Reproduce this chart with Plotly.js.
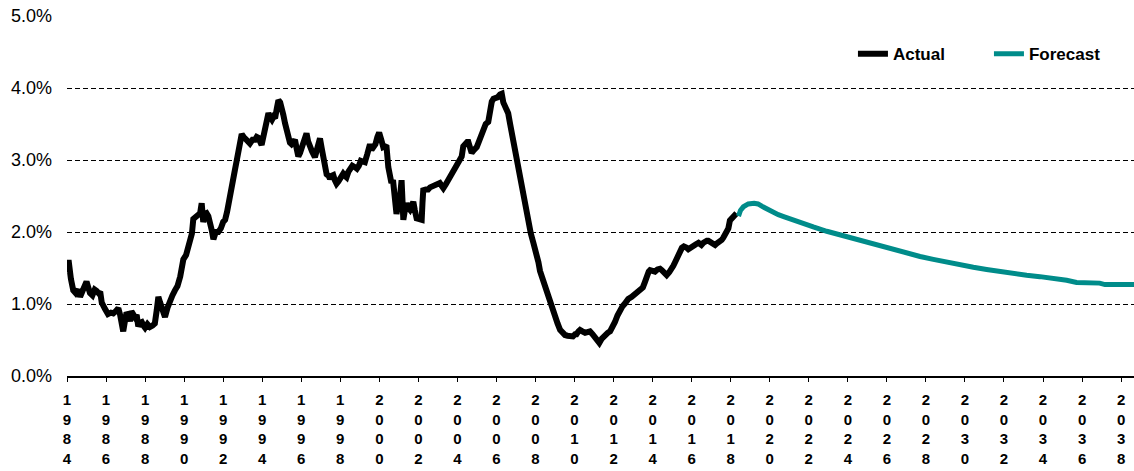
<!DOCTYPE html>
<html>
<head>
<meta charset="utf-8">
<script src="https://cdn.plot.ly/plotly-3.0.1.min.js"></script>
<style>html,body{margin:0;padding:0;background:#fff;}#chart{width:1134px;height:471px;}</style>
</head>
<body>
<div id="chart"></div>
<script>
const actualYears = [1984.00,1984.08,1984.20,1984.32,1984.45,1984.58,1984.67,1984.78,1984.90,1985.00,1985.10,1985.18,1985.30,1985.42,1985.52,1985.62,1985.70,1985.78,1985.95,1986.10,1986.25,1986.37,1986.50,1986.63,1986.72,1986.80,1986.88,1986.96,1987.05,1987.15,1987.23,1987.30,1987.40,1987.48,1987.57,1987.65,1987.74,1987.83,1987.92,1988.00,1988.12,1988.25,1988.38,1988.50,1988.60,1988.68,1988.77,1988.85,1989.02,1989.15,1989.28,1989.40,1989.53,1989.66,1989.80,1989.90,1989.96,1990.10,1990.20,1990.30,1990.40,1990.47,1990.56,1990.73,1990.82,1990.90,1990.98,1991.08,1991.15,1991.24,1991.32,1991.42,1991.50,1991.62,1991.75,1991.88,1992.00,1992.10,1992.20,1992.27,1992.36,1992.44,1992.52,1992.60,1992.70,1992.78,1992.87,1992.95,1993.05,1993.20,1993.37,1993.50,1993.63,1993.72,1993.80,1993.97,1994.07,1994.15,1994.25,1994.32,1994.40,1994.50,1994.58,1994.66,1994.75,1994.83,1994.92,1995.00,1995.08,1995.17,1995.26,1995.34,1995.42,1995.50,1995.60,1995.68,1995.77,1995.85,1995.94,1996.02,1996.12,1996.20,1996.27,1996.35,1996.44,1996.55,1996.70,1996.80,1996.90,1996.96,1997.05,1997.13,1997.22,1997.30,1997.40,1997.47,1997.55,1997.64,1997.72,1997.81,1997.90,1997.98,1998.07,1998.15,1998.24,1998.32,1998.42,1998.50,1998.62,1998.75,1998.85,1998.95,1999.05,1999.15,1999.26,1999.38,1999.46,1999.52,1999.60,1999.70,1999.80,1999.90,1999.99,2000.10,2000.20,2000.28,2000.37,2000.46,2000.55,2000.62,2000.70,2000.78,2000.88,2000.97,2001.06,2001.14,2001.19,2001.23,2001.32,2001.40,2001.48,2001.57,2001.66,2001.74,2001.82,2001.91,2002.05,2002.17,2002.21,2002.25,2002.38,2002.50,2002.60,2002.68,2002.80,2002.94,2003.02,2003.10,2003.20,2003.28,2003.40,2003.53,2003.66,2003.80,2003.92,2004.05,2004.15,2004.22,2004.30,2004.40,2004.50,2004.56,2004.65,2004.73,2004.85,2004.99,2005.08,2005.16,2005.25,2005.33,2005.45,2005.58,2005.68,2005.76,2005.85,2005.93,2006.05,2006.18,2006.27,2006.35,2006.50,2006.60,2006.70,2006.80,2006.87,2007.00,2007.13,2007.25,2007.38,2007.50,2007.64,2007.76,2007.89,2008.06,2008.15,2008.23,2008.36,2008.49,2008.62,2008.74,2008.87,2009.00,2009.13,2009.26,2009.38,2009.51,2009.64,2009.77,2009.92,2010.03,2010.10,2010.20,2010.28,2010.40,2010.54,2010.66,2010.79,2010.92,2011.05,2011.16,2011.27,2011.40,2011.56,2011.70,2011.82,2011.95,2012.07,2012.20,2012.33,2012.46,2012.59,2012.75,2012.93,2013.05,2013.18,2013.35,2013.50,2013.60,2013.69,2013.80,2013.87,2014.00,2014.12,2014.25,2014.38,2014.47,2014.55,2014.65,2014.72,2014.85,2014.97,2015.06,2015.15,2015.25,2015.32,2015.42,2015.50,2015.60,2015.66,2015.75,2015.83,2015.95,2016.09,2016.22,2016.35,2016.42,2016.50,2016.60,2016.68,2016.78,2016.85,2016.94,2017.02,2017.10,2017.20,2017.28,2017.37,2017.46,2017.54,2017.62,2017.70,2017.80,2017.88,2017.96,2018.05,2018.14,2018.22,2018.30];
const actualValues = [1.44,1.61,1.35,1.19,1.15,1.20,1.10,1.18,1.22,1.31,1.22,1.15,1.12,1.20,1.18,1.15,1.17,1.02,0.93,0.86,0.88,0.87,0.90,0.94,0.85,0.72,0.62,0.75,0.88,0.85,0.76,0.90,0.87,0.82,0.85,0.69,0.74,0.75,0.70,0.67,0.72,0.68,0.70,0.73,0.92,1.10,1.02,0.94,0.82,0.95,1.06,1.12,1.19,1.25,1.38,1.52,1.62,1.68,1.80,1.92,1.98,2.18,2.20,2.24,2.26,2.40,2.14,2.25,2.26,2.22,2.15,2.02,1.90,2.00,2.00,2.05,2.14,2.17,2.28,2.40,2.48,2.56,2.76,2.86,3.00,3.14,3.26,3.36,3.32,3.27,3.23,3.28,3.28,3.32,3.31,3.21,3.36,3.47,3.60,3.65,3.60,3.56,3.60,3.58,3.72,3.83,3.80,3.74,3.63,3.51,3.38,3.30,3.24,3.22,3.26,3.28,3.15,3.05,3.10,3.18,3.25,3.32,3.37,3.26,3.18,3.12,3.04,3.12,3.26,3.30,3.16,3.04,2.90,2.80,2.78,2.74,2.78,2.79,2.72,2.67,2.70,2.73,2.79,2.81,2.78,2.76,2.84,2.89,2.92,2.90,2.88,2.92,2.99,2.98,2.97,3.08,3.20,3.22,3.14,3.18,3.22,3.32,3.38,3.28,3.18,3.19,3.18,2.90,2.70,2.68,2.72,2.45,2.25,2.40,2.49,2.72,2.45,2.17,2.32,2.40,2.34,2.31,2.36,2.42,2.30,2.19,2.18,2.17,2.40,2.58,2.59,2.59,2.62,2.63,2.64,2.67,2.68,2.68,2.64,2.61,2.66,2.72,2.77,2.84,2.90,2.96,3.00,3.05,3.19,3.24,3.25,3.25,3.16,3.10,3.14,3.18,3.24,3.30,3.38,3.44,3.50,3.53,3.70,3.81,3.85,3.86,3.87,3.91,3.92,3.80,3.70,3.65,3.50,3.35,3.26,3.08,2.95,2.78,2.58,2.40,2.17,1.98,1.85,1.70,1.58,1.46,1.35,1.24,1.12,1.01,0.90,0.82,0.73,0.64,0.60,0.57,0.56,0.55,0.55,0.58,0.58,0.62,0.64,0.62,0.60,0.61,0.62,0.58,0.53,0.50,0.46,0.52,0.58,0.60,0.62,0.68,0.75,0.84,0.92,0.97,1.01,1.07,1.10,1.13,1.16,1.19,1.23,1.30,1.39,1.45,1.47,1.46,1.45,1.48,1.49,1.47,1.45,1.41,1.40,1.44,1.48,1.53,1.58,1.64,1.69,1.75,1.78,1.80,1.80,1.78,1.76,1.79,1.81,1.83,1.85,1.84,1.82,1.85,1.87,1.88,1.88,1.86,1.84,1.83,1.82,1.84,1.85,1.87,1.89,1.92,1.96,2.00,2.05,2.16,2.19,2.21,2.23,2.26];

const forecastYears = [2018.40,2018.50,2018.65,2018.90,2019.20,2019.40,2019.65,2019.90,2020.20,2020.44,2020.75,2021.04,2021.55,2022.23,2022.92,2023.60,2024.28,2024.97,2025.65,2026.33,2027.01,2027.70,2028.38,2029.06,2029.75,2030.43,2031.11,2031.80,2032.48,2033.16,2033.84,2034.53,2035.21,2035.72,2036.90,2037.17,2038.70];
const forecastValues = [2.22,2.30,2.35,2.39,2.40,2.39,2.35,2.31,2.27,2.24,2.21,2.18,2.13,2.07,2.01,1.96,1.90,1.85,1.80,1.75,1.70,1.66,1.62,1.58,1.54,1.51,1.48,1.45,1.43,1.40,1.38,1.36,1.33,1.30,1.29,1.27,1.27];

const tickYears = [1984,1986,1988,1990,1992,1994,1996,1998,2000,2002,2004,2006,2008,2010,2012,2014,2016,2018,2020,2022,2024,2026,2028,2030,2032,2034,2036,2038];
const tickLabels = tickYears.map(y => String(y).split('').join('<br>'));
const yTicks = [0,1,2,3,4,5];
const yTickLabels = ['0.0%','1.0%','2.0%','3.0%','4.0%','5.0%'];

const traces = [
  {x: actualYears, y: actualValues, name: 'Actual', type: 'scatter', mode: 'lines',
   line: {color: '#000000', width: 6}},
  {x: forecastYears, y: forecastValues, name: 'Forecast', type: 'scatter', mode: 'lines',
   line: {color: '#008C8A', width: 5}}
];

const layout = {
  width: 1134, height: 471,
  margin: {l: 67, r: 0, t: 16, b: 95},
  paper_bgcolor: '#ffffff', plot_bgcolor: '#ffffff',
  font: {family: 'Liberation Sans, Arial, sans-serif', color: '#000'},
  showlegend: true,
  legend: {orientation: 'h', x: 0.7366, xanchor: 'left', y: 0.894, yanchor: 'middle',
           font: {size: 17, weight: 'bold', color: '#000'}, bgcolor: 'rgba(0,0,0,0)',
           entrywidth: 91, entrywidthmode: 'pixels'},
  xaxis: {range: [1984, 2038.66], tickvals: tickYears, ticktext: tickLabels,
          tickfont: {size: 15, weight: 'bold', color: '#000'},
          showgrid: false, zeroline: false, showline: true, linecolor: '#000', linewidth: 2,
          ticks: 'outside', ticklen: 4, tickcolor: '#000', tickwidth: 1, ticklabelstandoff: 5},
  yaxis: {range: [0, 5], tickvals: yTicks, ticktext: yTickLabels,
          tickfont: {size: 18, color: '#000'},
          showgrid: true, gridcolor: '#000', gridwidth: 1, griddash: '5px,3px',
          zeroline: false, showline: false, ticks: '', ticklabelstandoff: 14}
};

Plotly.newPlot('chart', traces, layout, {displayModeBar: false, staticPlot: true});
</script>
</body>
</html>
